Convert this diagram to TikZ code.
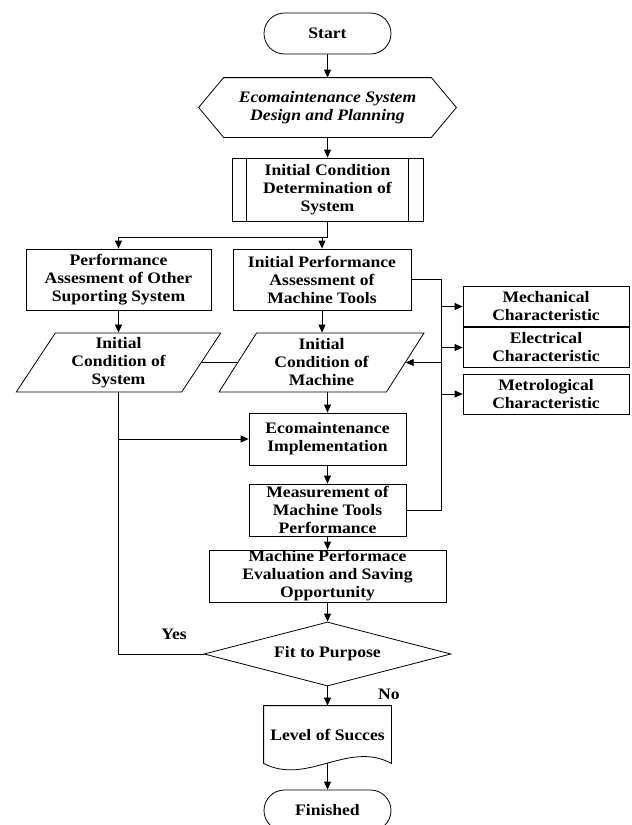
\documentclass[tikz,border=0pt]{standalone}
\usepackage{fontspec}
\setmainfont{Liberation Serif}[FakeStretch=1.1]
\usetikzlibrary{shapes.geometric, shapes.misc, arrows.meta}

\begin{document}
\begin{tikzpicture}[x=1pt, y=-1pt, line width=0.8pt,
    every node/.style={font=\fontsize{16pt}{18pt}\selectfont\bfseries, align=center, inner sep=0pt},
    terminal/.style={draw, rounded rectangle, minimum width=127pt, minimum height=41pt},
    process/.style={draw, rectangle, minimum height=52pt},
    iobox/.style={draw, trapezium, trapezium left angle=60, trapezium right angle=120,
        trapezium stretches=true, minimum width=205pt, minimum height=59pt},
    charbox/.style={draw, rectangle, minimum width=166pt, minimum height=40pt},
    decision/.style={draw, diamond, aspect=3.86, minimum width=247pt, minimum height=64pt},
    arr/.style={-{Triangle[length=8pt, width=7pt]}}
  ]
    \useasboundingbox (0,0) rectangle (632,825);

    % main column
    \node[terminal] (start) at (327.5,33.5) {Start};
    \node[minimum width=257pt, minimum height=59pt] (design) at (327.5,107.5) {\itshape Ecomaintenance System\\ \itshape Design and Planning};
    \node[process, minimum width=191pt, minimum height=63pt] (initcond) at (327.5,189.5) {Initial Condition\\Determination of\\System};
    \node[process, minimum width=185pt, minimum height=61pt] (perfother) at (118.5,279.5) {Performance\\Assesment of Other\\Suporting System};
    \node[process, minimum width=178pt, minimum height=61pt] (perfmach) at (322,279.5) {Initial Performance\\Assessment of\\Machine Tools};
    \node[iobox] (condsys) at (118.5,362.5) {Initial\\Condition of\\System};
    \node[iobox] (condmach) at (321.5,362.5) {Initial\\Condition of\\Machine};
    \node[process, minimum width=157pt] (ecoimpl) at (327.5,439) {Ecomaintenance\\Implementation};
    \node[process, minimum width=157pt] (measure) at (327.5,510) {Measurement of\\Machine Tools\\Performance};
    \node[process, minimum width=237pt] (evaluate) at (327.5,576) {Machine Performace\\Evaluation and Saving\\Opportunity};
    \node[decision] (fit) at (327.5,654) {Fit to Purpose};
    \node[minimum width=127pt, minimum height=57pt] (level) at (327.5,734.5) {Level of Succes};
    \node[terminal] (finish) at (327.5,810.5) {Finished};

    % characteristics
    \node[charbox] (mech) at (546,306.5) {Mechanical\\Characteristic};
    \node[charbox] (elec) at (546,347.5) {Electrical\\Characteristic};
    \node[charbox] (metro) at (546,394) {Metrological\\Characteristic};

    % labels
    \node (yes) at (174,634) {Yes};
    \node (no) at (389,694) {No};

    % outlines of the hexagon, subprocess and document
    \draw (design.west) -- ([xshift=25pt]design.north west) -- ([xshift=-25pt]design.north east)
        -- (design.east) -- ([xshift=-25pt]design.south east) -- ([xshift=25pt]design.south west) -- cycle;
    \draw ([xshift=15pt]initcond.north west) -- ([xshift=15pt]initcond.south west);
    \draw ([xshift=-15pt]initcond.north east) -- ([xshift=-15pt]initcond.south east);
    \draw (level.south west) -- (level.north west) -- (level.north east) -- (level.south east)
        .. controls (348,740) and (307,786) .. (level.south west);

    \coordinate (split) at (327.5,237);
    \coordinate (bustop) at (441,279.5);
    \coordinate (busbot) at (441,510);

    \draw[arr] (start) -- (design);
    \draw[arr] (design) -- (initcond);
    \draw[arr] (initcond) -- (split) -| (perfother);
    \draw[arr] (split -| perfmach) -- (perfmach);
    \draw[arr] (perfother) -- (condsys);
    \draw[arr] (perfmach.south) -- (perfmach.south |- condmach.north);
    \draw (condsys.east) -- (condmach.west);
    \draw (perfmach.east) -- (bustop) -- (busbot) -- (measure.east);
    \draw[arr] (bustop |- mech) -- (mech);
    \draw[arr] (bustop |- elec) -- (elec);
    \draw[arr] (bustop |- metro) -- (metro);
    \draw[arr] (bustop |- condmach) -- (condmach.east);
    \draw[arr] (condmach.south -| ecoimpl) -- (ecoimpl);
    \draw[arr] (condsys.south |- ecoimpl) -- (ecoimpl);
    \draw (condsys.south) |- (fit.west);
    \draw[arr] (ecoimpl) -- (measure);
    \draw[arr] (measure) -- (evaluate);
    \draw[arr] (evaluate) -- (fit);
    \draw[arr] (fit) -- (level);
    \draw[arr] (level.south) ++(0,-0.5) -- (finish);
\end{tikzpicture}
\end{document}
